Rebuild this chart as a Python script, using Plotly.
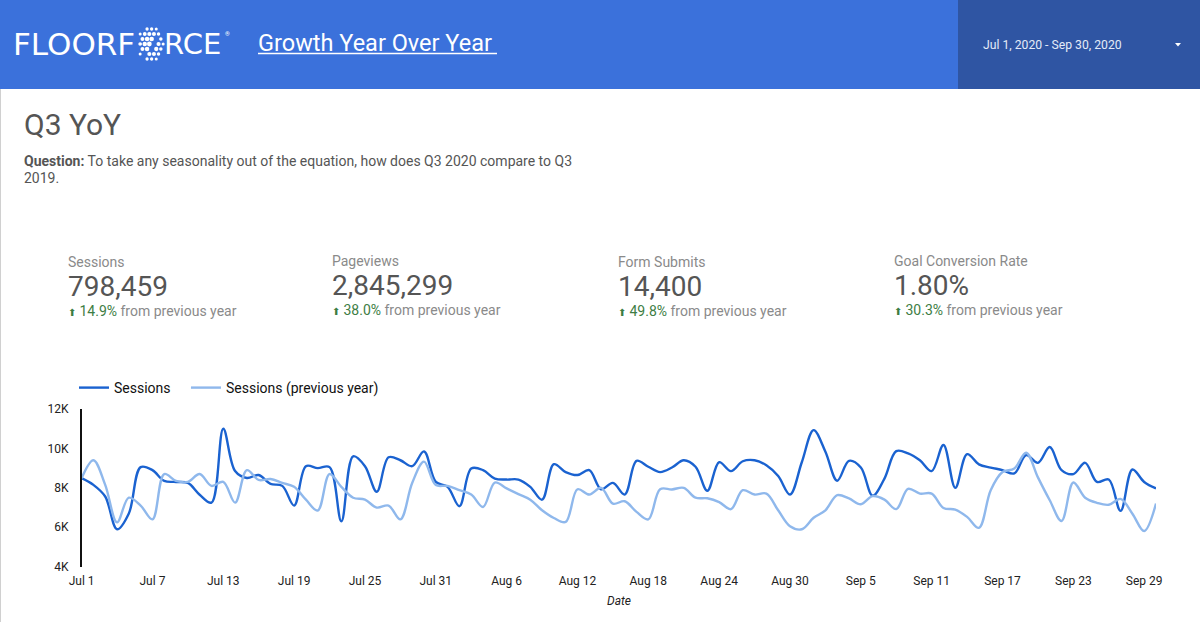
import plotly.graph_objects as go
import pandas as pd

dates = pd.date_range("2020-07-01", "2020-09-30", freq="D")
tick_dates = dates[::6]
tick_labels = ["Jul 1", "Jul 7", "Jul 13", "Jul 19", "Jul 25", "Jul 31", "Aug 6", "Aug 12", "Aug 18",
               "Aug 24", "Aug 30", "Sep 5", "Sep 11", "Sep 17", "Sep 23", "Sep 29"]

sessions = [8490, 8150, 7560, 5900, 6700, 9050, 8900, 8350, 8300, 8250, 7650, 7250, 11000, 8850, 8500, 8650,
            8200, 8100, 7100, 9100, 9000, 9050, 6300, 9600, 9100, 7800, 9550, 9400, 9100, 9850, 8300, 8050,
            7070, 8980, 8900, 8470, 8420, 8420, 8050, 7400, 9200, 8800, 8650, 8900, 7930, 8250, 7660, 9370,
            9070, 8800, 9030, 9400, 9070, 7850, 9300, 8850, 9350, 9400, 9150, 8600, 7660, 9300, 10930, 9830,
            8360, 9370, 9030, 7600, 8470, 9860, 9750, 9400, 8850, 10170, 8000, 9710, 9190, 9030, 8900, 8730,
            9660, 9270, 10070, 8900, 8700, 9270, 8300, 8420, 6830, 8930, 8300, 7970]
sessions_prev = [8490, 9400, 8150, 6250, 7500, 7100, 6400, 8700, 8350, 8300, 8700, 8100, 8300, 7250, 8900, 8400,
                 8450, 8250, 8050, 7400, 6850, 8700, 8050, 7500, 7400, 7000, 7100, 6400, 8250, 9330, 8140, 8100,
                 7880, 7660, 7030, 8270, 7970, 7680, 7400, 6860, 6470, 6270, 7930, 7660, 8000, 7200, 7320, 6780,
                 6400, 7930, 7920, 8000, 7500, 7470, 7280, 6920, 7880, 7660, 7710, 6860, 6050, 5900, 6480, 6860,
                 7630, 7460, 7170, 7580, 7400, 6920, 7950, 7710, 7710, 6980, 6900, 6530, 5970, 7880, 8800, 8980,
                 9780, 8530, 7370, 6320, 8270, 7500, 7240, 7140, 7440, 6690, 5810, 7200]

kpi_names = ["Sessions", "Pageviews", "Form Submits", "Goal Conversion Rate"]
kpi_values = ["798,459", "2,845,299", "14,400", "1.80%"]
kpi_changes = ["14.9%", "38.0%", "49.8%", "30.3%"]
kpi_left = [67, 331, 617, 893]
kpi_top = [262, 261, 262, 261]

W = 1200
H = 622
FONT = "Roboto"

def px(x):
    return x / W

def py(y):
    return 1 - y / H

def label(x, y, text, size, color, anchor="left", family=FONT):
    return dict(xref="paper", yref="paper", x=px(x), y=py(y), text=text, showarrow=False,
                xanchor=anchor, yanchor="middle", align=anchor, borderpad=0,
                font=dict(family=family, size=size, color=color))

fig = go.Figure()
# trailing nbsp widens the gap between the two legend items
fig.add_trace(go.Scatter(x=dates, y=sessions, name="Sessions\u00a0\u00a0\u00a0", mode="lines",
                         line=dict(color="#1a62d0", width=2.4, shape="spline", smoothing=1)))
fig.add_trace(go.Scatter(x=dates, y=sessions_prev, name="Sessions (previous year)", mode="lines",
                         line=dict(color="#8fb8ec", width=2.4, shape="spline", smoothing=1)))

shapes = [
    dict(type="rect", xref="paper", yref="paper", x0=0, x1=1, y0=py(89), y1=1, fillcolor="#3b71db", line_width=0, layer="below"),
    dict(type="rect", xref="paper", yref="paper", x0=px(958), x1=1, y0=py(89), y1=1, fillcolor="#2f55a3", line_width=0, layer="below"),
    dict(type="rect", xref="paper", yref="paper", x0=0, x1=px(1), y0=0, y1=py(89), fillcolor="#d0d0d0", line_width=0, layer="below"),
    # title underline
    dict(type="line", xref="paper", yref="paper", x0=px(258), x1=px(497), y0=py(53.5), y1=py(53.5), line=dict(color="white", width=1.5)),
    # dropdown caret
    dict(type="path", xref="paper", yref="paper", fillcolor="white", line_width=0,
         path=f"M {px(1175)} {py(43)} L {px(1181)} {py(43)} L {px(1178)} {py(46.5)} Z"),
]

# logo ball instead of the second O, rows of dots with a diagonal gap
for row in range(-3, 4):
    for col in range(-3, 4):
        dx = (col + (row % 2) * 0.5 - 0.25) * 4.6
        dy = row * 5
        if (dx / 13) ** 2 + (dy / 17) ** 2 > 1:
            continue
        if abs(dx * 0.9 + dy * 0.7 - 3) < 1.6:
            continue
        size = 2.4 - 0.9 * ((dx / 13) ** 2 + (dy / 17) ** 2)
        cx, cy = 150.5 + dx, 44 + dy
        shapes.append(dict(type="circle", xref="paper", yref="paper", x0=px(cx - size), x1=px(cx + size),
                           y0=py(cy - size), y1=py(cy + size), fillcolor="white", line_width=0))

annotations = [
    label(12, 44, "FLOORF", 31, "white", family="DejaVu Sans"),
    label(163, 44, "RCE", 29, "white", family="DejaVu Sans"),
    label(224, 33, "®", 6, "white"),
    label(257, 43, "Growth Year Over Year", 23.5, "white"),
    label(982, 45, "Jul 1, 2020 - Sep 30, 2020", 12.2, "#e4ebf8"),
    label(23, 124, "Q3 YoY", 30, "#555555"),
    label(23, 161, "<b>Question:</b> To take any seasonality out of the equation, how does Q3 2020 compare to Q3", 14, "#555555"),
    label(23, 178, "2019.", 14, "#555555"),
    label(619, 601, "<i>Date</i>", 12, "#222222", anchor="center"),
]
for name, val, chg, left, top in zip(kpi_names, kpi_values, kpi_changes, kpi_left, kpi_top):
    annotations.append(label(left, top, name, 14, "#8a8a8a"))
    annotations.append(label(left, top + 24, val, 28, "#555555"))
    annotations.append(label(left, top + 49, f"<span style='color:#3d7d44'><span style='font-size:10px'>⬆</span> {chg}</span> from previous year", 14, "#8a8a8a"))

fig.update_layout(
    width=W, height=H,
    margin=dict(l=0, r=0, t=0, b=0, autoexpand=False),
    paper_bgcolor="white", plot_bgcolor="white",
    font=dict(family=FONT, size=12, color="#222222"),
    shapes=shapes,
    annotations=annotations,
    showlegend=True,
    legend=dict(orientation="h", x=px(74), y=py(388), xanchor="left", yanchor="middle",
                font=dict(family=FONT, size=14, color="#111111"), bgcolor="rgba(0,0,0,0)"),
    xaxis=dict(domain=[px(81.6), px(1156)], range=[dates[0], dates[-1]], type="date", automargin=False,
               tickvals=list(tick_dates), ticktext=tick_labels, showgrid=False, zeroline=False,
               showline=False, ticks="", ticklabelstandoff=5, tickfont=dict(size=12, color="#222222")),
    yaxis=dict(domain=[py(566.7), py(409)], range=[4000, 12000], tickvals=[4000, 6000, 8000, 10000, 12000],
               ticktext=["4K", "6K", "8K", "10K", "12K"], showgrid=False, zeroline=False, showline=True, automargin=False,
               linecolor="#111111", linewidth=1.5, ticks="", ticklabelstandoff=9, tickfont=dict(size=12, color="#222222")),
)

fig.write_html("out.html", post_script="document.body.style.margin='0';", config=dict(displayModeBar=False))
